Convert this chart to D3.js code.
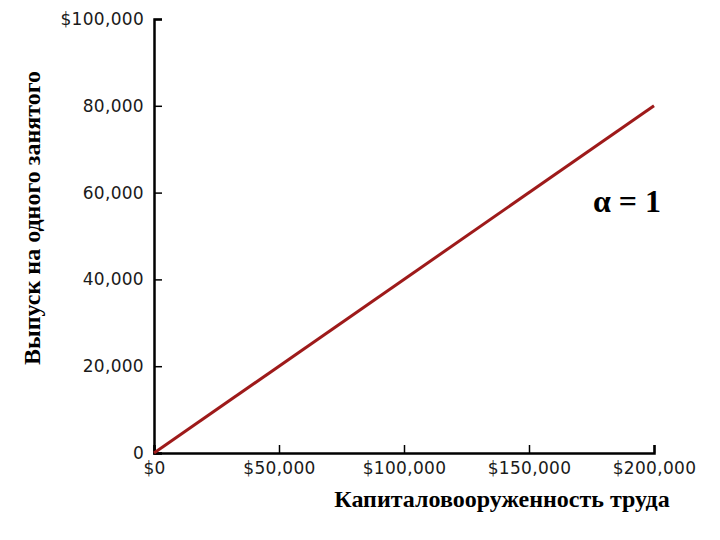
<!DOCTYPE html>
<html lang="ru">
<head>
<meta charset="UTF-8">
<title>Капиталовооруженность труда</title>
<script src="https://d3js.org/d3.v7.min.js"></script>
<style>
  body { margin: 0; background: #fff; }
  .tick text { font-family: "DejaVu Sans", Verdana, sans-serif; font-size: 17px; letter-spacing: 0.3px; fill: #1a1a1a; }
  .axis-title { font-family: "Liberation Serif", "Times New Roman", serif; font-weight: bold; fill: #000; }
</style>
</head>
<body>
<svg width="720" height="540"></svg>
<script>
  // data
  const capital = [0, 200000];
  const output = [0, 80000];
  const xTicks = [0, 50000, 100000, 150000, 200000];
  const yTicks = [0, 20000, 40000, 60000, 80000, 100000];
  const xTitle = "Капиталовооруженность труда";
  const yTitle = "Выпуск на одного занятого";
  const note = "α = 1";

  const svg = d3.select("svg");
  const margin = { left: 154, top: 19, right: 66, bottom: 87 };
  const width = 720 - margin.left - margin.right,
        height = 540 - margin.top - margin.bottom;

  const g = svg.append("g").attr("transform", `translate(${margin.left},${margin.top})`);

  const x = d3.scaleLinear().domain([0, 200000]).range([0, width]);
  const y = d3.scaleLinear().domain([0, 100000]).range([height, 0]);

  const fmt = d3.format(",");

  // x axis
  const xAxis = g.append("g")
    .attr("transform", `translate(0,${height})`)
    .call(d3.axisBottom(x).tickValues(xTicks).tickSize(-8).tickPadding(9)
      .tickFormat(d => "$" + fmt(d)));
  xAxis.select(".domain").attr("stroke", "#000").attr("stroke-width", 2.5);
  xAxis.selectAll(".tick line").attr("stroke", "#000").attr("stroke-width", 1.5);

  // y axis
  const yAxis = g.append("g")
    .call(d3.axisLeft(y).tickValues(yTicks).tickSize(-8).tickPadding(10)
      .tickFormat(d => d === 100000 ? "$" + fmt(d) : fmt(d)));
  yAxis.select(".domain").attr("stroke", "#000").attr("stroke-width", 2.5);
  yAxis.selectAll(".tick line").attr("stroke", "#000").attr("stroke-width", 1.5);

  // production line
  const line = d3.line().x((d, i) => x(capital[i])).y(d => y(d));
  g.append("path")
    .datum(output)
    .attr("d", line)
    .attr("fill", "none")
    .attr("stroke", "#9e1a1a")
    .attr("stroke-width", 3);

  // titles
  svg.append("text")
    .attr("class", "axis-title")
    .attr("x", 502).attr("y", 507)
    .attr("text-anchor", "middle")
    .style("font-size", "24px")
    .text(xTitle);

  svg.append("text")
    .attr("class", "axis-title")
    .attr("transform", "translate(40,218) rotate(-90)")
    .attr("text-anchor", "middle")
    .style("font-size", "24px")
    .text(yTitle);

  svg.append("text")
    .attr("class", "axis-title")
    .attr("x", 627).attr("y", 212)
    .attr("text-anchor", "middle")
    .style("font-size", "32px")
    .text(note);
</script>
</body>
</html>
